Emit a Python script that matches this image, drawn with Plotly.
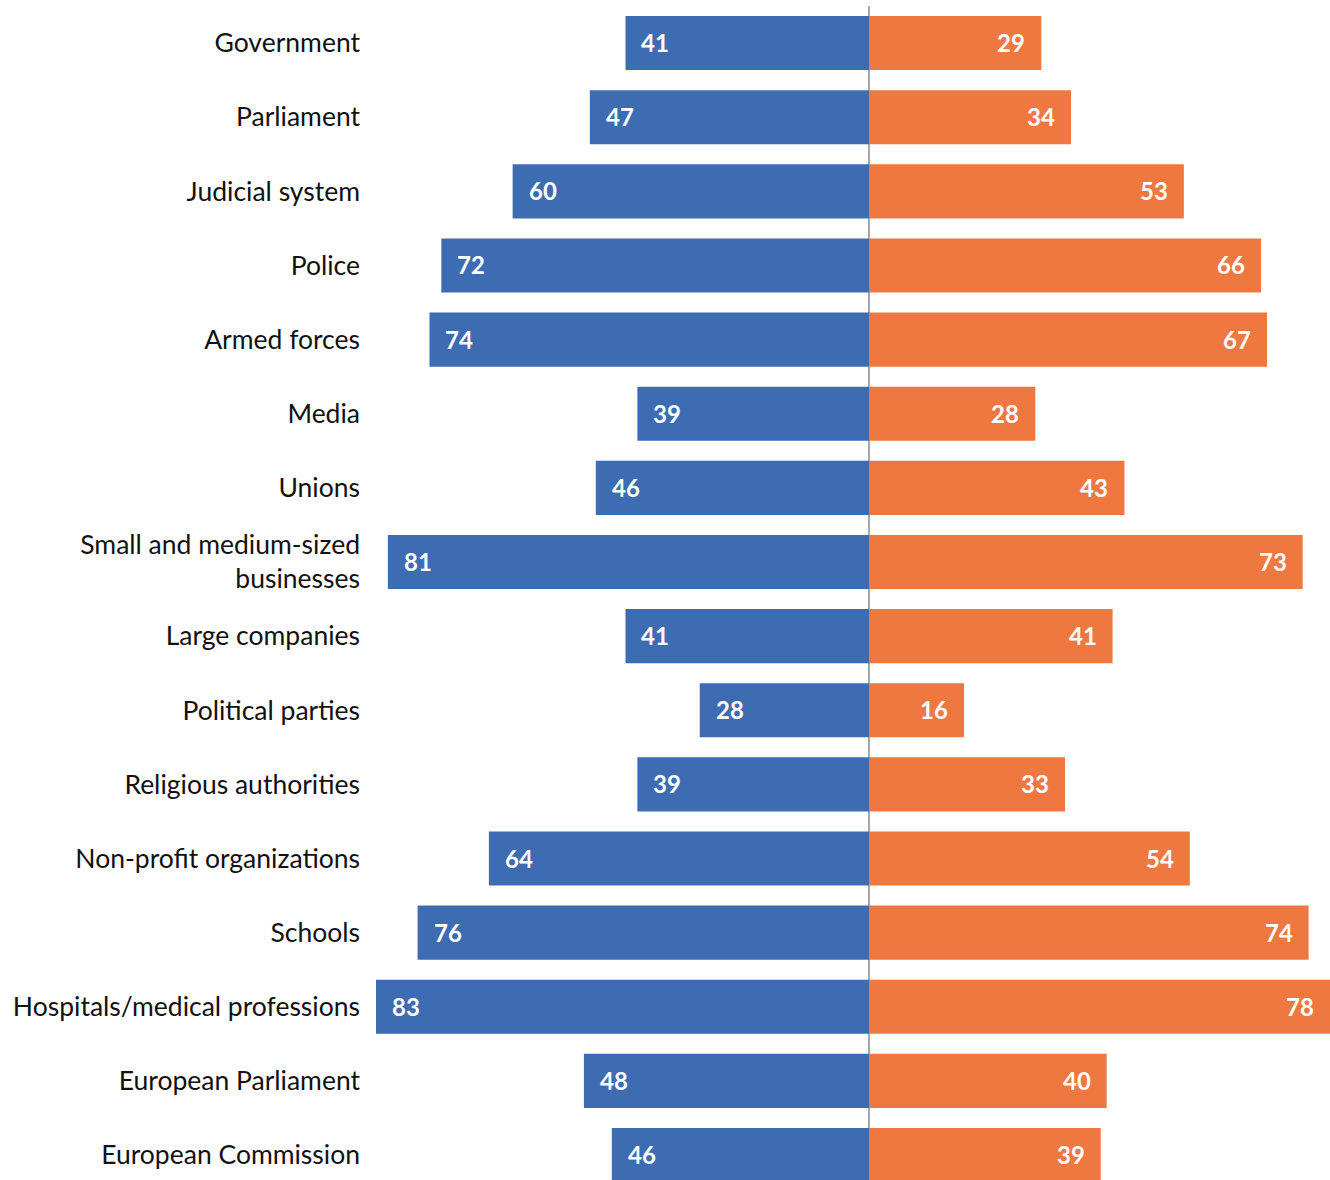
import plotly.graph_objects as go

categories = [
    "Government", "Parliament", "Judicial system", "Police", "Armed forces",
    "Media", "Unions", "Small and medium-sized<br>businesses", "Large companies",
    "Political parties", "Religious authorities", "Non-profit organizations",
    "Schools", "Hospitals/medical professions", "European Parliament",
    "European Commission",
]
# bar lengths as drawn in the picture (left side)
blue_values = [41, 47, 60, 72, 74, 39, 46, 81, 41, 28.5, 39, 64, 76, 83, 48, 43.3]
# printed labels on the left bars
blue_labels = [41, 47, 60, 72, 74, 39, 46, 81, 41, 28, 39, 64, 76, 83, 48, 46]
orange_values = [29, 34, 53, 66, 67, 28, 43, 73, 41, 16, 33, 54, 74, 78, 40, 39]

BLUE = "#3E6CB2"
ORANGE = "#EF7840"
FONT = "Lato"
X_MIN, X_MAX = -83, 77.6

fig = go.Figure()
fig.add_trace(go.Bar(
    y=categories, x=[-v for v in blue_values], orientation="h",
    marker=dict(color=BLUE, line=dict(width=0)), width=0.73,
    hoverinfo="skip", showlegend=False,
))
fig.add_trace(go.Bar(
    y=categories, x=orange_values, orientation="h",
    marker=dict(color=ORANGE, line=dict(width=0)), width=0.73,
    hoverinfo="skip", showlegend=False,
))

annotations = []
for c, b, bl, o in zip(categories, blue_values, blue_labels, orange_values):
    annotations.append(dict(
        x=-b, y=c, xref="x", yref="y", text=f"<b>{bl}</b>", showarrow=False,
        xanchor="left", xshift=14, yshift=0.5,
        font=dict(family=FONT, size=24, color="white"),
    ))
    annotations.append(dict(
        x=min(o, X_MAX), y=c, xref="x", yref="y", text=f"<b>{o}</b>", showarrow=False,
        xanchor="right", xshift=-14, yshift=0.5,
        font=dict(family=FONT, size=24, color="white"),
    ))

fig.update_layout(
    width=1330, height=1180,
    margin=dict(l=376, r=0, t=6, b=0),
    barmode="relative",
    plot_bgcolor="white", paper_bgcolor="white",
    annotations=annotations,
    font=dict(family=FONT, size=26, color="#111111"),
)
fig.update_xaxes(
    range=[X_MIN, X_MAX], showgrid=False, showticklabels=False,
    zeroline=True, zerolinecolor="#A8A8A8", zerolinewidth=1.5, fixedrange=True,
)
fig.update_yaxes(
    range=[15.337, -0.5], showgrid=False, ticks="", ticklabelstandoff=15,
    tickfont=dict(family=FONT, size=26.5, color="#111111"), fixedrange=True,
)

fig.write_html(
    "out.html",
    config={"displayModeBar": False, "staticPlot": True},
    post_script="document.body.style.margin='0';document.body.style.overflow='hidden';",
)
